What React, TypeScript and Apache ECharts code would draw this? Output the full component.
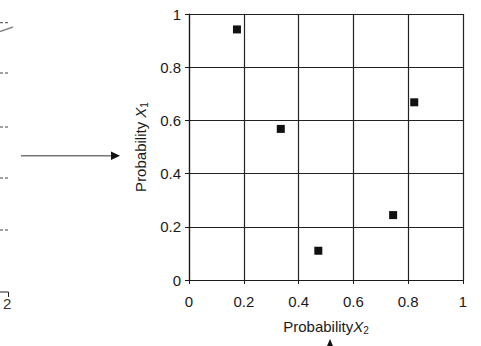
import React, { useEffect, useRef } from "react";
import * as echarts from "echarts";

const probX2 = [0.175, 0.335, 0.472, 0.745, 0.822];
const probX1 = [0.942, 0.568, 0.11, 0.244, 0.668];
const xTicks = [0, 0.2, 0.4, 0.6, 0.8, 1];
const yTicks = [0, 0.2, 0.4, 0.6, 0.8, 1];

const FONT = "'Liberation Sans', Arial, Helvetica, sans-serif";

export default function App() {
  const ref = useRef<HTMLDivElement>(null);
  useEffect(() => {
    document.body.style.margin = "0";
    if (!ref.current) return;
    const chart = echarts.init(ref.current, undefined, { renderer: "svg" });
    const fmt = (v: number) => {
      const found = xTicks.concat(yTicks).find((t) => Math.abs(t - v) < 1e-9);
      return found === undefined ? "" : String(found);
    };
    const nameRich = {
      n: { fontSize: 15, color: "#1a1a1a", fontFamily: FONT },
      i: { fontSize: 15, color: "#1a1a1a", fontStyle: "italic", fontFamily: FONT },
      s: { fontSize: 10, color: "#1a1a1a", fontFamily: FONT, verticalAlign: "bottom", padding: [7, 0, 0, 0] },
    };
    chart.setOption({
      animation: false,
      backgroundColor: "#fff",
      grid: { left: 189, top: 14, right: 18, bottom: 66 },
      xAxis: {
        type: "value",
        min: 0,
        max: 1,
        interval: 0.2,
        name: "{n|Probability}{i|X}{s|2}",
        nameLocation: "middle",
        nameGap: 38,
        nameTextStyle: { rich: nameRich },
        axisLine: { show: true, lineStyle: { color: "#1a1a1a", width: 1.2 } },
        axisTick: { show: true, inside: false, length: 4, lineStyle: { color: "#1a1a1a" } },
        axisLabel: { margin: 14, fontSize: 15, color: "#1a1a1a", fontFamily: FONT, formatter: fmt },
        splitLine: { show: true, lineStyle: { color: "#222", width: 1.2 } },
      },
      yAxis: {
        type: "value",
        min: 0,
        max: 1,
        interval: 0.2,
        name: "{n|Probability }{i|X}{s|1}",
        nameLocation: "middle",
        nameGap: 40,
        nameRotate: 90,
        nameTextStyle: { rich: nameRich },
        axisLine: { show: true, lineStyle: { color: "#1a1a1a", width: 1.2 } },
        axisTick: { show: true, inside: false, length: 4, lineStyle: { color: "#1a1a1a" } },
        axisLabel: { margin: 8, fontSize: 15, color: "#1a1a1a", fontFamily: FONT, formatter: fmt },
        splitLine: { show: true, lineStyle: { color: "#222", width: 1.2 } },
      },
      series: [
        {
          type: "scatter",
          data: probX2.map((x, i) => [x, probX1[i]]),
          symbol: "rect",
          symbolSize: 8,
          itemStyle: { color: "#111", opacity: 1 },
        },
      ],
      graphic: [
        ...[22.7, 73, 127, 178, 230].map((y) => ({
          type: "line",
          shape: { x1: 0, y1: y, x2: 8, y2: y },
          style: { stroke: "#444", lineWidth: 1, lineDash: [3, 2] },
        })),
        { type: "line", shape: { x1: 0, y1: 31.5, x2: 13, y2: 27 }, style: { stroke: "#888", lineWidth: 1.5 } },
        { type: "line", shape: { x1: 21, y1: 155.7, x2: 113, y2: 155.7 }, style: { stroke: "#777", lineWidth: 1.5 } },
        {
          type: "polygon",
          shape: { points: [[111, 151.5], [120, 155.7], [111, 160]] },
          style: { fill: "#111" },
        },
        {
          type: "polyline",
          shape: { points: [[0, 292], [8.5, 292], [8.5, 297]] },
          style: { stroke: "#222", lineWidth: 1, fill: null },
        },
        {
          type: "text",
          x: 3,
          y: 303,
          style: { text: "2", fontSize: 15, fill: "#333", fontFamily: FONT, verticalAlign: "middle", align: "left" },
        },
        {
          type: "polygon",
          shape: { points: [[327, 346], [330, 339], [333, 346]] },
          style: { fill: "#111" },
        },
      ],
    });
    return () => chart.dispose();
  }, []);
  return <div ref={ref} style={{ width: 481, height: 346 }} />;
}
